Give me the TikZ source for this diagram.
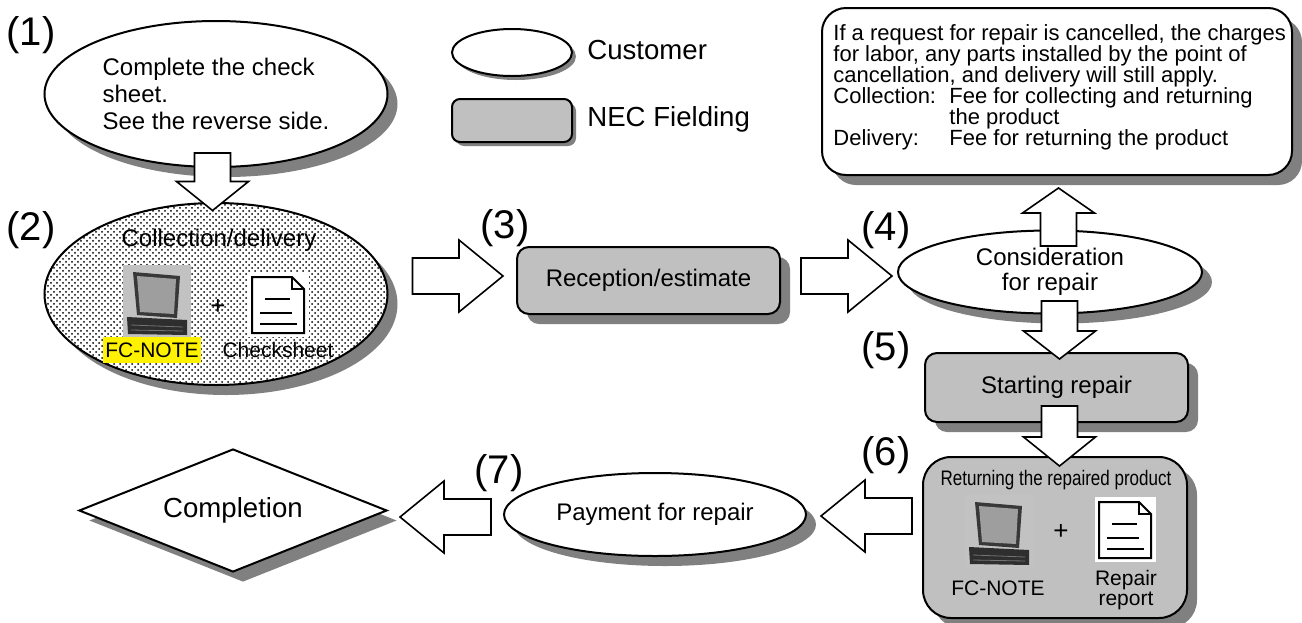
\documentclass[tikz,border=0pt]{standalone}
\usepackage{fontspec}
\setmainfont{Liberation Sans}
\usepackage{graphicx}
\usepackage{xcolor}
\usepackage{tikz}
\usetikzlibrary{shapes.geometric,shadows,patterns,calc}

\definecolor{boxgray}{RGB}{192,192,192}
\definecolor{shadowgray}{RGB}{128,128,128}

% hollow block arrow: [head length]{tail}{tip}
\newcommand{\fatarrow}[3][22pt]{%
  \coordinate (fatT) at (#2);
  \coordinate (fatH) at (#3);
  \coordinate (fatN) at ($(fatH)!#1!(fatT)$);
  \draw[hollow] ($(fatT)!9pt!90:(fatH)$) -- ($(fatN)!9pt!-90:(fatT)$)
    -- ($(fatN)!18pt!-90:(fatT)$) -- (fatH) -- ($(fatN)!18pt!90:(fatT)$)
    -- ($(fatN)!9pt!90:(fatT)$) -- ($(fatT)!9pt!-90:(fatH)$) -- cycle;}

\begin{document}
\begin{tikzpicture}[x=0.5pt,y=-0.5pt,
    font=\fontsize{12}{13.5}\selectfont,
    castshadow/.style={drop shadow={shadow xshift=#1,shadow yshift=-#1,
        fill=shadowgray,opacity=1}},
    castshadow/.default=5pt,
    laptop/.pic={
      \fill[black!24] (0,0) rectangle (68,72);
      \fill[black!78] (10,7) -- (57,11) -- (54,53) -- (14,50) -- cycle;
      \fill[black!38] (14,11) -- (53,14) -- (51,49) -- (17,47) -- cycle;
      \fill[black!82] (4,52) -- (64,55) -- (64,70) -- (5,69) -- cycle;
      \draw[black!55,thin] (8,60) -- (60,62) (8,65) -- (60,66);
    },
    sheet/.pic={
      \fill[white] (-4,-5) rectangle (57,60);
      \draw[line width=1pt,fill=white,line join=miter]
        (0,0) -- (40,0) -- (52,12) -- (52,56) -- (0,56) -- cycle;
      \draw[line width=0.6pt] (40,0) -- (40,12) -- (52,12);
      \draw[line width=0.8pt] (13,22) -- (38,22) (8,36) -- (40,36) (8,47) -- (45,47);
    }]
  \tikzstyle{customer}=[ellipse,draw,line width=1pt,fill=white,inner sep=0pt,castshadow]
  \tikzstyle{fielding}=[rectangle,rounded corners=6pt,draw,line width=1pt,fill=boxgray,inner sep=0pt,castshadow]
  \tikzstyle{stepno}=[font=\fontsize{20}{24}\selectfont,inner sep=0pt]
  \tikzstyle{smalltext}=[font=\fontsize{10.5}{10}\selectfont,inner sep=0pt,align=center]
  \tikzstyle{plus}=[inner sep=0pt,font=\fontsize{13}{13}\selectfont]
  \tikzstyle{legendtext}=[anchor=west,inner sep=0pt,font=\fontsize{13.8}{16}\selectfont]
  \tikzstyle{hollow}=[draw,fill=white,line width=0.8pt,line join=miter]

  \useasboundingbox (0,0) rectangle (1302,622);

  % legend
  \node[ellipse,draw,line width=1pt,fill=white,castshadow=2pt,inner sep=0pt,
    minimum width=60pt,minimum height=23.5pt] (L1) at (512,52.5) {};
  \node[legendtext] (L1t) at (587,50) {Customer};
  \node[rectangle,rounded corners=4pt,draw,line width=1pt,fill=boxgray,castshadow=2pt,
    minimum width=60pt,minimum height=21.5pt] (L2) at (512,120.5) {};
  \node[legendtext] (L2t) at (587,119) {NEC Fielding};

  % note on cancellation
  \node[rectangle,rounded corners=12pt,draw,line width=1pt,fill=white,castshadow,
    minimum width=235pt,minimum height=83.5pt] (N) at (1057,91.5) {};
  \node[anchor=north west,inner sep=0pt,align=left,
    font={\fontsize{11}{10.5}\selectfont\lineskiplimit=-6pt}] (Nt) at (833,24.5)
    {If a request for repair is cancelled, the charges\\
     for labor, any parts installed by the point of\\
     cancellation, and delivery will still apply.\\
     \makebox[58pt][l]{Collection:}Fee for collecting and returning\\
     \hspace*{58pt}the product\\
     \makebox[58pt][l]{Delivery:}Fee for returning the product};

  % (1)
  \node[customer,minimum width=171.5pt,minimum height=73pt,align=left] (A) at (216,94)
    {Complete the check\\sheet.\\See the reverse side.};

  % (2)
  \node[ellipse,draw,line width=1pt,castshadow,preaction={fill=white},
    pattern=crosshatch dots,minimum width=171.5pt,minimum height=91pt] (B) at (216,294) {};
  \node[inner sep=0pt] (Bt) at (219,240) {Collection/delivery};
  \pic at (123,265) {laptop};
  \node[plus] (Bp) at (218,307) {+};
  \pic at (252,277) {sheet};
  \node[smalltext,fill=yellow,inner xsep=1pt,minimum height=13pt] (Bl) at (152,350) {FC-NOTE};
  \node[smalltext] (Bs) at (278,350) {Checksheet};

  % (3) - (5)
  \node[fielding,minimum width=131.5pt,minimum height=33.5pt] (C) at (648.5,280.5)
    {Reception/estimate};
  \node[customer,minimum width=152pt,minimum height=41.5pt,align=center,
    font=\fontsize{12}{12.5}\selectfont] (D) at (1050,272) {Consideration\\for repair};
  \node[fielding,minimum width=131.5pt,minimum height=34.5pt] (E) at (1056.5,387.5)
    {Starting repair};

  % (6)
  \node[fielding,rounded corners=14pt,minimum width=132pt,minimum height=80.5pt] (F)
    at (1055,537.5) {};
  \node[inner sep=0pt,font=\fontsize{10.5}{12}\selectfont] (Ft) at (1056,480)
    {\scalebox{0.81}[1]{Returning the repaired product}};
  \pic at (965,495) {laptop};
  \node[plus] (Fp) at (1061,532) {+};
  \pic at (1099,502) {sheet};
  \node[smalltext] (Fl) at (998,588) {FC-NOTE};
  \node[smalltext] (Fs) at (1126,590) {Repair\\report};

  % (7) and end
  \node[customer,minimum width=151pt,minimum height=41.5pt] (G) at (655,514.5)
    {Payment for repair};
  \node[diamond,aspect=2.5,draw,line width=1pt,fill=white,castshadow,inner sep=0pt,
    minimum width=154pt,minimum height=61.5pt,font=\fontsize{13.8}{16}\selectfont] (H)
    at (233,510.5) {Completion};

  % flow
  \fatarrow[14.5pt]{$(A.south)+(-3.5,-15)$}{$(B.north)+(-3.5,8.5)$}
  \fatarrow{$(B.east)+(24,-18)$}{$(C.west)+(-13,-4.5)$}
  \fatarrow{$(C.east)+(20,-4.5)$}{$(D.west)+(-5,4)$}
  \fatarrow[12.5pt]{$(D.north)+(8.5,16.5)$}{$(N.south)+(1.5,12)$}
  \fatarrow[14pt]{$(D.south)+(9.5,-13.5)$}{$(E.north)+(3,7)$}
  \fatarrow[14.5pt]{$(E.south)+(3,-17)$}{$(F.north)+(4.5,10)$}
  \fatarrow{$(F.west)+(-10,-21.5)$}{$(G.east)+(14,1.5)$}
  \fatarrow{$(G.west)+(-12,2.5)$}{$(H.east)+(12,6.5)$}

  % step numbers
  \node[stepno] (s1) at (31,35) {(1)};
  \node[stepno] (s2) at (31,230) {(2)};
  \node[stepno] (s3) at (505,228) {(3)};
  \node[stepno] (s4) at (886,230) {(4)};
  \node[stepno] (s5) at (886,350) {(5)};
  \node[stepno] (s6) at (886,455) {(6)};
  \node[stepno] (s7) at (499,473) {(7)};
\end{tikzpicture}
\end{document}
